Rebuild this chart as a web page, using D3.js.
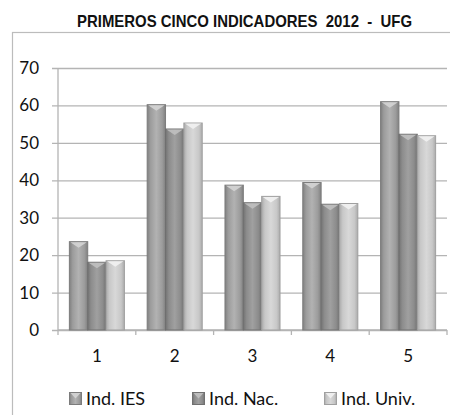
<!DOCTYPE html>
<html><head><meta charset="utf-8">
<script src="https://cdn.jsdelivr.net/npm/d3@7"></script>
<style>
body{margin:0;background:#fff;}
svg{display:block;}
</style></head>
<body>
<svg id="chart" width="450" height="415"></svg>
<script>
const title = "PRIMEROS CINCO INDICADORES  2012  -  UFG";
const categories = ["1","2","3","4","5"];
const seriesNames = ["Ind. IES","Ind. Nac.","Ind. Univ."];
const indIES  = [23.6, 60.2, 38.7, 39.4, 61.0];
const indNac  = [18.1, 53.7, 34.0, 33.6, 52.3];
const indUniv = [18.5, 55.3, 35.7, 33.8, 51.9];
const yTicks = [0,10,20,30,40,50,60,70];

const seriesValues = [indIES, indNac, indUniv];
const fills = [
  {base:"#9c9c9c", light:"#b2b2b2", dark:"#808080", hi:"#d4d4d4", stroke:"#7c7c7c"},
  {base:"#8c8c8c", light:"#a0a0a0", dark:"#737373", hi:"#c0c0c0", stroke:"#707070"},
  {base:"#c8c8c8", light:"#d8d8d8", dark:"#ababab", hi:"#f2f2f2", stroke:"#a0a0a0"}
];

const svg = d3.select("#chart");
const defs = svg.append("defs");
fills.forEach((f,i)=>{
  const g = defs.append("linearGradient").attr("id","g"+i).attr("x1","0").attr("x2","1").attr("y1","0").attr("y2","0");
  g.append("stop").attr("offset","0%").attr("stop-color",f.dark);
  g.append("stop").attr("offset","18%").attr("stop-color",f.base);
  g.append("stop").attr("offset","50%").attr("stop-color",f.light);
  g.append("stop").attr("offset","82%").attr("stop-color",f.base);
  g.append("stop").attr("offset","100%").attr("stop-color",f.dark);
});

// outer border
svg.append("rect").attr("x",12.5).attr("y",32.5).attr("width",460).attr("height",420)
  .attr("fill","none").attr("stroke","#bcbcbc").attr("stroke-width",1.2);

svg.append("text").attr("x",244.5).attr("y",27).attr("text-anchor","middle")
  .attr("xml:space","preserve").style("white-space","pre")
  .attr("textLength",335).attr("lengthAdjust","spacingAndGlyphs")
  .style("font-family","'Liberation Sans Narrow','Arial Narrow','Liberation Sans',sans-serif")
  .style("font-weight","bold").style("font-size","16.5px").attr("fill","#111")
  .text(title);

const pLeft = 58, pRight = 447, pTop = 68, pBottom = 330;
const x0 = d3.scaleBand().domain(categories).range([pLeft,pRight]).padding(0);
const x1 = d3.scaleBand().domain(d3.range(3)).range([0,x0.bandwidth()]).paddingInner(0).paddingOuter(0.62);
const y = d3.scaleLinear().domain([0,70]).range([pBottom,pTop]);

const tickFont = "Lato,'Open Sans',sans-serif";

// gridlines / y axis
const ya = svg.append("g").attr("transform",`translate(${pLeft},0)`)
  .call(d3.axisLeft(y).tickValues(yTicks).tickSize(0).tickPadding(19).tickFormat(d3.format("d")));
ya.select(".domain").remove();
ya.selectAll(".tick line").attr("x1",-6).attr("x2",pRight-pLeft).attr("stroke","#b4b4b4").attr("stroke-width",1.3);
ya.selectAll(".tick text").style("font-family",tickFont).style("font-size","17px").attr("fill","#111");

// vertical axis line
svg.append("line").attr("x1",pLeft).attr("x2",pLeft).attr("y1",pTop).attr("y2",pBottom+5)
  .attr("stroke","#b4b4b4").attr("stroke-width",1.3);

// x axis
const xa = svg.append("g").attr("transform",`translate(0,${pBottom})`)
  .call(d3.axisBottom(x0).tickSize(0).tickPadding(20));
xa.select(".domain").remove();
xa.selectAll(".tick text").style("font-family",tickFont).style("font-size","17px").attr("fill","#111");
const bounds = categories.map(c=>x0(c)+x0.bandwidth());
svg.selectAll(".xtick").data(bounds).enter().append("line")
  .attr("x1",d=>d).attr("x2",d=>d).attr("y1",pBottom).attr("y2",pBottom+5)
  .attr("stroke","#b4b4b4").attr("stroke-width",1.3);
svg.append("line").attr("x1",pLeft).attr("x2",pRight).attr("y1",pBottom).attr("y2",pBottom)
  .attr("stroke","#b4b4b4").attr("stroke-width",1.3);

// bars
function bar(g, xx, yy, w, h, i){
  const f = fills[i];
  g.append("rect").attr("x",xx).attr("y",yy).attr("width",w).attr("height",h)
    .attr("fill",`url(#g${i})`).attr("stroke",f.stroke).attr("stroke-width",1);
  const th = Math.min(5, h);
  g.append("path").attr("d",`M${xx+1},${yy+0.5} L${xx+w-1},${yy+0.5} L${xx+w/2},${yy+th+1} Z`)
    .attr("fill",f.hi).attr("opacity",0.9);
}
const bars = svg.append("g");
categories.forEach((c,ci)=>{
  seriesValues.forEach((vals,si)=>{
    const xx = x0(c)+x1(si);
    const yy = y(vals[ci]);
    bar(bars, xx, yy, x1.bandwidth(), pBottom-yy, si);
  });
});

// legend
const legendX = [69,192,324];
const lg = svg.append("g");
seriesNames.forEach((n,i)=>{
  const g = lg.append("g").attr("transform",`translate(${legendX[i]},392)`);
  bar(g, 0.5, 0.5, 12, 12, i);
  g.append("text").attr("x",17).attr("y",13).text(n)
    .style("font-family",tickFont).style("font-size","18px").attr("fill","#111");
});
</script>
</body></html>
